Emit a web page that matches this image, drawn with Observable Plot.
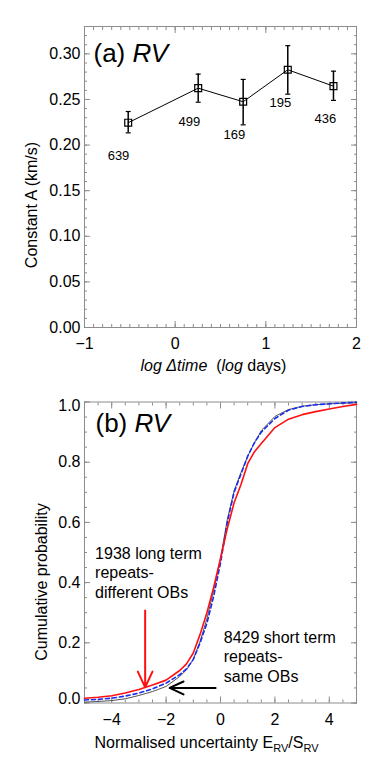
<!DOCTYPE html>
<html><head><meta charset="utf-8">
<script src="https://cdn.jsdelivr.net/npm/d3@7"></script>
<script src="https://cdn.jsdelivr.net/npm/@observablehq/plot@0.6"></script>
<style>
body{margin:0;background:#fff;}
#chart{width:382px;height:764px;}
#chart svg{display:block;}
</style></head><body><div id="chart"></div>
<script>
// ---------- Panel (a) data ----------
const logDt   = [-0.518, 0.254, 0.750, 1.242, 1.746];
const constA  = [0.2245, 0.2624, 0.2475, 0.2826, 0.2646];
const aLow    = [0.2134, 0.2470, 0.2222, 0.2558, 0.2490];
const aHigh   = [0.2368, 0.2778, 0.2720, 0.3090, 0.2810];
const nPairs  = ["639", "499", "169", "195", "436"];
const nLabelX = [-0.625, 0.157, 0.654, 1.161, 1.657];
const nLabelY = [0.188, 0.226, 0.211, 0.246, 0.229];
const xTicksA = [-1, 0, 1, 2];
const yTicksA = [0, 0.05, 0.10, 0.15, 0.20, 0.25, 0.30];

// ---------- Panel (b) data ----------
const normUnc  = [-5, -4.5, -4, -3.5, -3, -2.5, -2, -1.5, -1.25, -1, -0.75, -0.5, -0.25, 0, 0.25, 0.5, 0.75, 1, 1.25, 1.5, 2, 2.5, 3, 3.5, 4, 4.5, 5];
const cdfLong  = [0.016, 0.019, 0.024, 0.033, 0.045, 0.060, 0.076, 0.108, 0.130, 0.166, 0.228, 0.300, 0.385, 0.480, 0.580, 0.665, 0.725, 0.795, 0.835, 0.862, 0.915, 0.943, 0.958, 0.968, 0.977, 0.985, 0.992];
const cdfShort = [0.010, 0.012, 0.016, 0.023, 0.033, 0.047, 0.066, 0.094, 0.113, 0.145, 0.200, 0.265, 0.355, 0.465, 0.600, 0.700, 0.760, 0.820, 0.865, 0.900, 0.945, 0.973, 0.985, 0.991, 0.994, 0.997, 0.999];
const cdfModel = [0.003, 0.005, 0.008, 0.014, 0.025, 0.038, 0.055, 0.088, 0.110, 0.145, 0.205, 0.280, 0.375, 0.480, 0.610, 0.705, 0.765, 0.820, 0.865, 0.905, 0.952, 0.975, 0.986, 0.991, 0.994, 0.996, 0.997];
const xTicksB = [-4, -2, 0, 2, 4];
const yTicksB = [0.2, 0.4, 0.6, 0.8];
const yTicksBLow = [0];
const yTicksBHigh = [1.0];
const annText = ["1938 long term\nrepeats-\ndifferent OBs", "8429 short term\nrepeats-\nsame OBs"];
const annX = [-4.61, 0.12];
const annY = [0.523, 0.244];
const arrowX1 = [-2.77, -0.18];
const arrowY1 = [0.307, 0.050];
const arrowX2 = [-2.77, -1.87];
const arrowY2 = [0.052, 0.050];

// ---------- styling ----------
const FONT = "'Liberation Sans', Arial, Helvetica, sans-serif";
const GRAY = "#8c8c8c";
const minus = d => (d < 0 ? "\u2212" + (-d) : String(d));

function boxAxes(xMaj, xMin, yMaj, yMin) {
  const none = () => "";
  const m = [Plot.frame({stroke: GRAY})];
  for (const a of ["bottom", "top"]) {
    m.push(Plot.axisX(xMaj, {anchor: a, tickSize: -6, tickFormat: none, stroke: GRAY, label: null}));
    m.push(Plot.axisX(xMin, {anchor: a, tickSize: -3, tickFormat: none, stroke: GRAY, label: null}));
  }
  for (const a of ["left", "right"]) {
    m.push(Plot.axisY(yMaj, {anchor: a, tickSize: -6, tickFormat: none, stroke: GRAY, label: null}));
    m.push(Plot.axisY(yMin, {anchor: a, tickSize: -3, tickFormat: none, stroke: GRAY, label: null}));
  }
  return m;
}

const capSymbol = {draw(ctx) { ctx.moveTo(-2.5, 0); ctx.lineTo(2.5, 0); }};

// ---------- Panel (a) ----------
const ptsA = logDt.map((x, i) => ({x, y: constA[i], lo: aLow[i], hi: aHigh[i]}));
const labA = nPairs.map((t, i) => ({t, x: nLabelX[i], y: nLabelY[i]}));

const plotA = Plot.plot({
  width: 382, height: 380,
  marginTop: 26, marginBottom: 53, marginLeft: 84, marginRight: 26,
  style: {fontFamily: FONT, fontSize: "16px", color: "black", background: "white"},
  x: {domain: [-1, 2]},
  y: {domain: [0, 0.33]},
  marks: [
    ...boxAxes(xTicksA, d3.range(-10, 21).map(k => k / 10), yTicksA, d3.range(0, 34).map(k => k / 100)),
    Plot.axisX(xTicksA, {anchor: "bottom", tickSize: 0, tickPadding: 10, tickFormat: minus, label: null, fontSize: 16}),
    Plot.axisY(yTicksA, {anchor: "left", tickSize: 0, tickPadding: 4, tickFormat: d3.format(".2f"), label: null, fontSize: 16}),
    Plot.line(ptsA, {x: "x", y: "y", stroke: "black", strokeWidth: 1}),
    Plot.ruleX(ptsA, {x: "x", y1: "lo", y2: "hi", stroke: "black", strokeWidth: 1.5}),
    Plot.dot(ptsA, {x: "x", y: "lo", symbol: capSymbol, stroke: "black", strokeWidth: 1.2, r: 2}),
    Plot.dot(ptsA, {x: "x", y: "hi", symbol: capSymbol, stroke: "black", strokeWidth: 1.2, r: 2}),
    Plot.dot(ptsA, {x: "x", y: "y", symbol: "square", r: 3.9, stroke: "black", strokeWidth: 1.2, fill: "none"}),
    Plot.text(labA, {x: "x", y: "y", text: "t", fontSize: 13, fill: "black"}),
    Plot.text(["(a) RV"], {frameAnchor: "top-left", textAnchor: "start", lineAnchor: "middle", dx: 9, dy: 27, fontSize: 26, fill: "black"}),
    Plot.text(["Constant A (km/s)"], {frameAnchor: "left", textAnchor: "middle", lineAnchor: "middle", rotate: -90, dx: -53, dy: 28, fontSize: 16, fill: "black"}),
    Plot.text(["log \u0394time  (log days)"], {frameAnchor: "bottom", textAnchor: "middle", lineAnchor: "middle", dx: -7, dy: 38, fontSize: 16, fill: "black"})
  ]
});

// ---------- Panel (b) ----------
const cdfRows = normUnc.map((x, i) => ({x, long: cdfLong[i], short: cdfShort[i], model: cdfModel[i]}));
const annRows = annText.map((t, i) => ({t, x: annX[i], y: annY[i]}));
const arrows = arrowX1.map((x1, i) => ({x1, y1: arrowY1[i], x2: arrowX2[i], y2: arrowY2[i]}));
const yLab = {anchor: "left", tickSize: 0, tickPadding: 4, tickFormat: d3.format(".1f"), label: null, fontSize: 16};

const plotB = Plot.plot({
  width: 382, height: 384,
  marginTop: 21.5, marginBottom: 61.5, marginLeft: 84, marginRight: 26,
  style: {fontFamily: FONT, fontSize: "16px", color: "black", background: "white"},
  x: {domain: [-5, 5]},
  y: {domain: [0, 1]},
  marks: [
    ...boxAxes(xTicksB, d3.range(-10, 11).map(k => k / 2), [...yTicksBLow, ...yTicksB, ...yTicksBHigh], d3.range(0, 21).map(k => k / 20)),
    Plot.axisX(xTicksB, {anchor: "bottom", tickSize: 0, tickPadding: 11, tickFormat: minus, label: null, fontSize: 16}),
    Plot.axisY(yTicksB, yLab),
    Plot.axisY(yTicksBLow, {...yLab, dy: -4}),
    Plot.axisY(yTicksBHigh, {...yLab, dy: 4}),
    Plot.line(cdfRows, {x: "x", y: "model", stroke: "#555", strokeWidth: 1}),
    Plot.line(cdfRows, {x: "x", y: "short", stroke: "#1a2cf0", strokeWidth: 1.6, strokeDasharray: "4,3"}),
    Plot.line(cdfRows, {x: "x", y: "long", stroke: "#ff1010", strokeWidth: 1.6}),
    Plot.arrow(arrows.slice(0, 1), {x1: "x1", y1: "y1", x2: "x2", y2: "y2", stroke: "#ff1010", strokeWidth: 2, headLength: 13, headAngle: 50}),
    Plot.arrow(arrows.slice(1, 2), {x1: "x1", y1: "y1", x2: "x2", y2: "y2", stroke: "black", strokeWidth: 2, headLength: 13, headAngle: 50}),
    Plot.text(annRows, {x: "x", y: "y", text: "t", textAnchor: "start", lineAnchor: "top", lineHeight: 1.2, fontSize: 16, fill: "black"}),
    Plot.text(["(b) RV"], {frameAnchor: "top-left", textAnchor: "start", lineAnchor: "middle", dx: 11, dy: 21.5, fontSize: 26, fill: "black"}),
    Plot.text(["Cumulative probability"], {frameAnchor: "left", textAnchor: "middle", lineAnchor: "middle", rotate: -90, dx: -43, dy: 29.5, fontSize: 16, fill: "black"}),
    Plot.text(["Normalised uncertainty ERV/SRV"], {frameAnchor: "bottom", textAnchor: "middle", lineAnchor: "middle", dx: -14, dy: 40, fontSize: 16, fill: "black"})
  ]
});

// ---------- rich text (italics, subscripts) ----------
function rich(svg, match, build) {
  d3.select(svg).selectAll("text").filter(function () { return this.textContent === match; })
    .each(function () { const t = d3.select(this); t.text(null); t.style("white-space", "pre"); build(t); });
}
rich(plotA, "(a) RV", t => { t.append("tspan").text("(a) "); t.append("tspan").attr("font-style", "italic").text("RV"); });
rich(plotB, "(b) RV", t => { t.append("tspan").text("(b) "); t.append("tspan").attr("font-style", "italic").text("RV"); });
rich(plotA, "log \u0394time  (log days)", t => {
  t.append("tspan").attr("font-style", "italic").text("log \u0394time");
  t.append("tspan").text("  (");
  t.append("tspan").attr("font-style", "italic").text("log");
  t.append("tspan").text(" days)");
});
rich(plotB, "Normalised uncertainty ERV/SRV", t => {
  t.append("tspan").text("Normalised uncertainty E");
  t.append("tspan").attr("font-size", "11px").attr("dy", 4).text("RV");
  t.append("tspan").attr("dy", -4).text("/S");
  t.append("tspan").attr("font-size", "11px").attr("dy", 4).text("RV");
});

document.getElementById("chart").append(plotA, plotB);
</script>
</body></html>
